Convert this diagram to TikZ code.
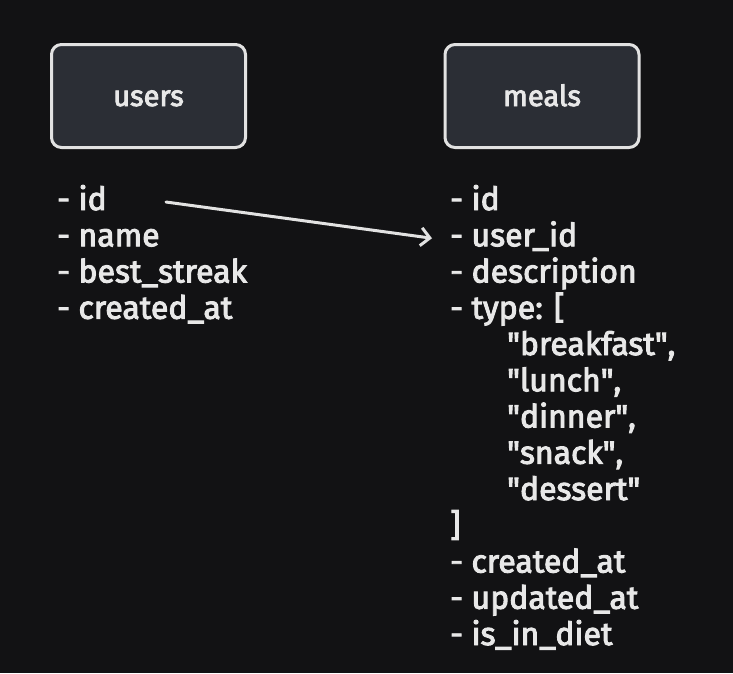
\documentclass[tikz,border=0pt]{standalone}
\usepackage{fontspec}
\setmainfont{Fira Sans}[FakeBold=3]
\usetikzlibrary{positioning, arrows.meta}

\definecolor{canvas}{HTML}{121214}
\definecolor{boxfill}{HTML}{2B2E35}
\definecolor{boxline}{HTML}{E2E2E2}
\definecolor{ink}{HTML}{E8E8E8}

\newcommand{\qq}[1]{\textquotedbl#1\textquotedbl}

\tikzset{
  tablebox/.style={draw=boxline, fill=boxfill, line width=3pt, rounded corners=10pt,
    minimum width=194pt, minimum height=103pt, outer sep=0pt, text=ink,
    text height=22pt, text depth=2pt, font=\fontsize{29}{34}\selectfont},
  field/.style={anchor=west, inner sep=0pt, text height=21pt, text depth=5pt,
    text=ink, font=\fontsize{32}{36}\selectfont},
  link/.style={draw=boxline, line width=3pt, line cap=round,
    -{Straight Barb[length=9pt,width=18pt,line width=3pt]}}
}

\begin{document}
\begin{tikzpicture}[x=1pt, y=-1pt, node distance=36.25pt]
	\fill[canvas] (0,0) rectangle (733,673);

	\node[tablebox] (users) at (148.5,96) {users};
	\node[tablebox] (meals) at (542,96) {meals};

	% users fields
	\node[field] (uid) at (57,202) {- id};
	\node[field, below=of uid.west, anchor=west] (uname) {- name};
	\node[field, below=of uname.west, anchor=west] (ustreak) {- best\_streak};
	\node[field, below=of ustreak.west, anchor=west] (ucreated) {- created\_at};

	% meals fields
	\node[field] (mid) at (450,202) {- id};
	\node[field, below=of mid.west, anchor=west] (muid) {- user\_id};
	\node[field, below=of muid.west, anchor=west] (mdesc) {- description};
	\node[field, below=of mdesc.west, anchor=west] (mtype) {- type: [};
	\node[field, below=of mtype.west, anchor=west, xshift=57pt] (tbreak) {\qq{breakfast},};
	\node[field, below=of tbreak.west, anchor=west] (tlunch) {\qq{lunch},};
	\node[field, below=of tlunch.west, anchor=west] (tdinner) {\qq{dinner},};
	\node[field, below=of tdinner.west, anchor=west] (tsnack) {\qq{snack},};
	\node[field, below=of tsnack.west, anchor=west] (tdessert) {\qq{dessert}};
	\node[field, below=of tdessert.west, anchor=west, xshift=-57pt] (mclose) {]};
	\node[field, below=of mclose.west, anchor=west] (mcreated) {- created\_at};
	\node[field, below=of mcreated.west, anchor=west] (mupdated) {- updated\_at};
	\node[field, below=of mupdated.west, anchor=west] (mdiet) {- is\_in\_diet};

	\draw[link] ([xshift=109pt]uid.west) -- ([xshift=-18pt]muid.west);
\end{tikzpicture}
\end{document}
